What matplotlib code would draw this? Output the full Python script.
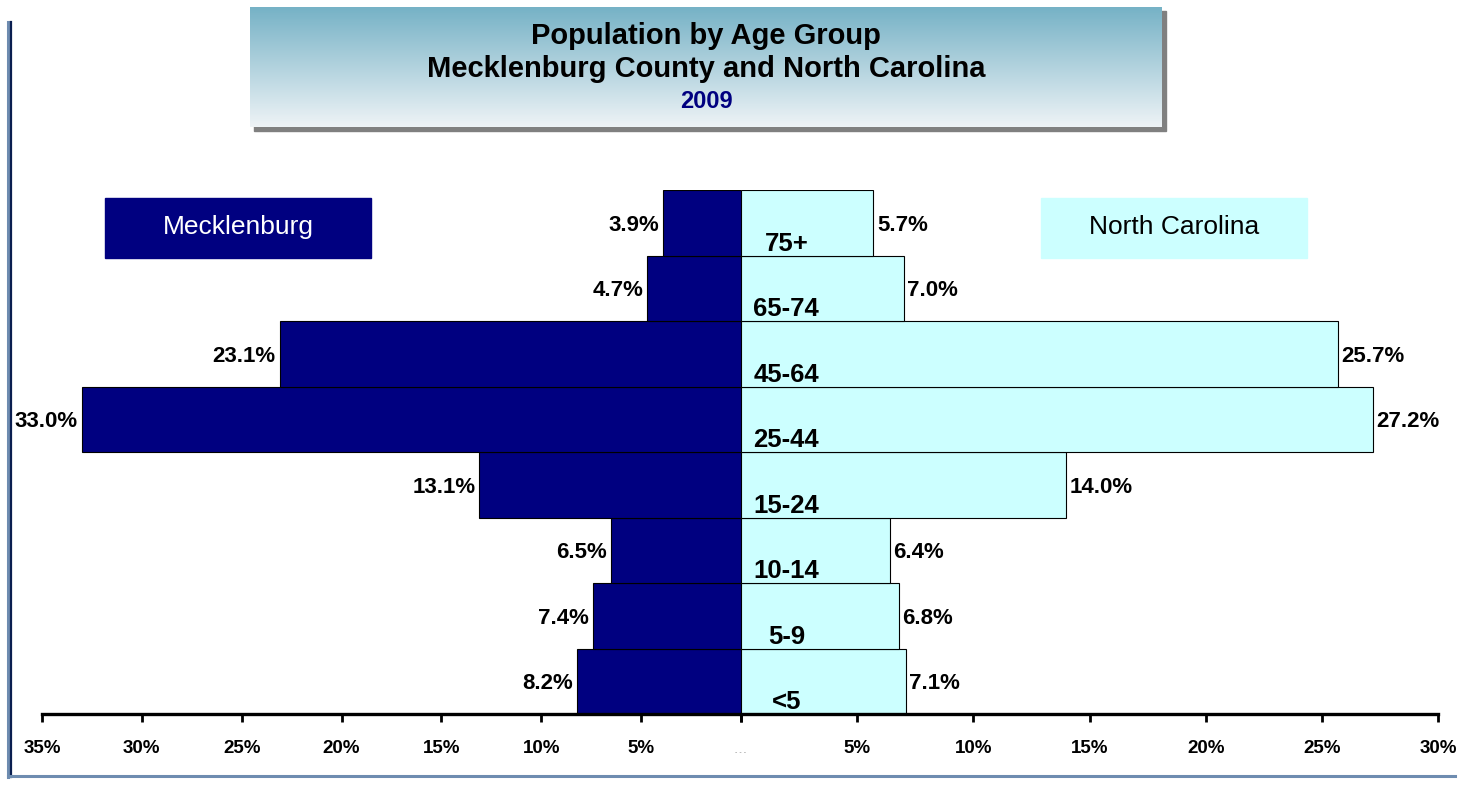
import matplotlib
matplotlib.use("Agg")
import matplotlib.pyplot as plt
import numpy as np
from matplotlib.patches import Rectangle

plt.rcParams['font.family'] = ['Liberation Sans', 'DejaVu Sans']

# data
ages = ['<5', '5-9', '10-14', '15-24', '25-44', '45-64', '65-74', '75+']
meck = [8.2, 7.4, 6.5, 13.1, 33.0, 23.1, 4.7, 3.9]
nc = [7.1, 6.8, 6.4, 14.0, 27.2, 25.7, 7.0, 5.7]
left_ticks = [35, 30, 25, 20, 15, 10, 5, 0]
right_ticks = [0, 5, 10, 15, 20, 25, 30]

NAVY = '#000080'
CYAN = '#CCFFFF'
W, H = 1473, 790


def px(x0, y0, x1, y1):
    """pixel box (top-left origin) -> figure fraction rect"""
    return [x0 / W, 1 - y1 / H, (x1 - x0) / W, (y1 - y0) / H]


fig = plt.figure(figsize=(W / 100, H / 100), dpi=100)

# frame lines left and bottom
fig.add_artist(plt.Line2D([7.5 / W, 7.5 / W], [1 - 22 / H, 1 - 777 / H], color='#6E8CB0', lw=2.2))
fig.add_artist(plt.Line2D([11 / W, 11 / W], [1 - 22 / H, 1 - 777 / H], color='#0A1E50', lw=1.6))
fig.add_artist(plt.Line2D([8 / W, 1455 / W], [1 - 776 / H, 1 - 776 / H], color='#6E8CB0', lw=2.2))

# title box with shadow and gradient
fig.add_artist(Rectangle((254 / W, 1 - 131 / H), 912 / W, 120 / H,
                         transform=fig.transFigure, color='#808080', zorder=1))
tax = fig.add_axes(px(250, 7, 1162, 127), zorder=2)
grad = np.linspace(0, 1, 100).reshape(-1, 1)
top = np.array([0x76, 0xB2, 0xC6]) / 255
bot = np.array([0xEE, 0xF3, 0xF6]) / 255
img = top[None, None, :] * (1 - grad[:, :, None]) + bot[None, None, :] * grad[:, :, None]
tax.imshow(img, aspect='auto', extent=[0, 1, 0, 1])
tax.set_axis_off()
tax.text(0.5, 0.76, 'Population by Age Group', ha='center', va='center',
         fontsize=21, fontweight='bold', transform=tax.transAxes)
tax.text(0.5, 0.48, 'Mecklenburg County and North Carolina', ha='center', va='center',
         fontsize=21, fontweight='bold', transform=tax.transAxes)
tax.text(0.5, 0.21, '2009', ha='center', va='center', color=NAVY,
         fontsize=17, fontweight='bold', transform=tax.transAxes)

# left (Mecklenburg) and right (NC) axes, different scales
axl = fig.add_axes(px(42, 190, 741, 714))
axr = fig.add_axes(px(741, 190, 1438, 714))
y = np.arange(len(ages))

axl.barh(y, meck, height=1.0, color=NAVY, edgecolor='black', linewidth=0.8)
axl.set_xlim(35, 0)
axr.barh(y, nc, height=1.0, color=CYAN, edgecolor='black', linewidth=0.8)
axr.set_xlim(0, 30)

for ax in (axl, axr):
    ax.set_ylim(-0.5, len(ages) - 0.5)
    ax.set_yticks([])
    ax.patch.set_visible(False)
    for s in ('top', 'left', 'right'):
        ax.spines[s].set_visible(False)
    ax.spines['bottom'].set_linewidth(2.4)
    ax.tick_params(axis='x', direction='out', length=6, width=2, pad=13,
                   labelsize=13.5)

axl.set_xticks(left_ticks)
axl.set_xticklabels([f'{t}%' if t else '' for t in left_ticks], fontweight='bold')
axr.set_xticks(right_ticks)
axr.set_xticklabels([f'{t}%' if t else '' for t in right_ticks], fontweight='bold')
axr.text(0, -38 / 524, '- - -', transform=axr.get_xaxis_transform(), ha='center',
         va='center', fontsize=5, color='#909090')

for i in range(len(ages)):
    axl.text(meck[i] + 0.2, i - 0.04, f'{meck[i]:.1f}%', ha='right', va='center',
             fontsize=16, fontweight='bold')
    axr.text(nc[i] + 0.15, i - 0.04, f'{nc[i]:.1f}%', ha='left', va='center',
             fontsize=16, fontweight='bold')
    axr.text(1.95, i - 0.32, ages[i], ha='center', va='center',
             fontsize=18.5, fontweight='bold')

# legend boxes
fig.add_artist(Rectangle((105 / W, 1 - 258 / H), 266 / W, 60 / H,
                         transform=fig.transFigure, color=NAVY))
fig.text(238 / W, 1 - 227 / H, 'Mecklenburg', ha='center', va='center',
         color='white', fontsize=19)
fig.add_artist(Rectangle((1041 / W, 1 - 258 / H), 266 / W, 60 / H,
                         transform=fig.transFigure, color=CYAN))
fig.text(1174 / W, 1 - 227 / H, 'North Carolina', ha='center', va='center',
         color='black', fontsize=19)

fig.savefig('out.png', dpi=100)
